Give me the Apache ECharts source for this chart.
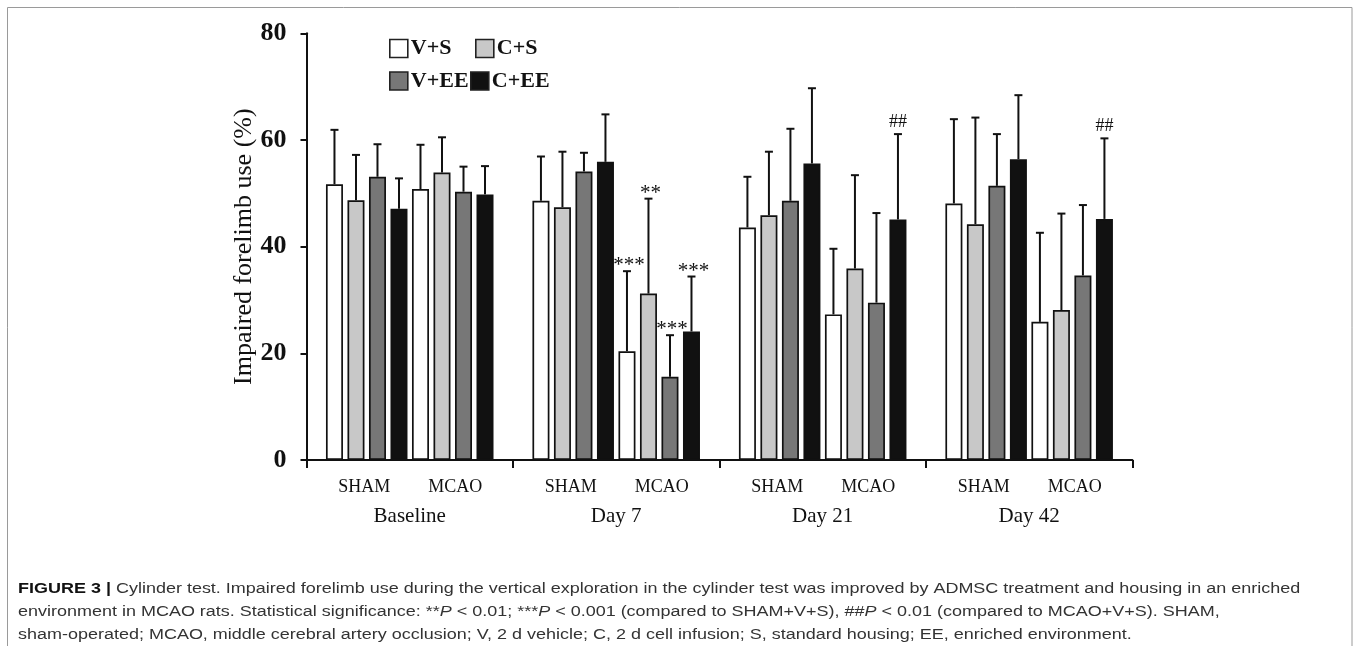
<!DOCTYPE html>
<html>
<head>
<meta charset="utf-8">
<script src="https://cdn.jsdelivr.net/npm/echarts@6/dist/echarts.min.js"></script>
<style>html,body{margin:0;padding:0;background:#fff;}#c{width:1360px;height:646px;}</style>
</head>
<body>
<div id="c"></div>
<script>
// ---- data ----
var days = ['Baseline', 'Day 7', 'Day 21', 'Day 42'];
var groups = ['SHAM', 'MCAO'];
var treatments = ['V+S', 'C+S', 'V+EE', 'C+EE'];
var yTicks = [0, 20, 40, 60, 80];

// means (per day)
var shamVS   = [51.7, 48.6, 43.6, 48.1];
var shamCS   = [48.7, 47.4, 45.9, 44.2];
var shamVEE  = [53.1, 54.1, 48.6, 51.4];
var shamCEE  = [47.1, 55.9, 55.6, 56.4];
var mcaoVS   = [50.8, 20.4, 27.3, 25.9];
var mcaoCS   = [53.9, 31.2, 35.9, 28.1];
var mcaoVEE  = [50.3, 15.6, 29.5, 34.6];
var mcaoCEE  = [49.8, 24.1, 45.1, 45.2];

// top of upper error bar (mean + SD)
var shamVSTop  = [61.9, 56.9, 53.1, 63.9];
var shamCSTop  = [57.2, 57.8, 57.8, 64.2];
var shamVEETop = [59.2, 57.6, 62.1, 61.1];
var shamCEETop = [52.8, 64.8, 69.7, 68.4];
var mcaoVSTop  = [59.1, 35.4, 39.6, 42.6];
var mcaoCSTop  = [60.5, 49.0, 53.4, 46.2];
var mcaoVEETop = [55.0, 23.4, 46.3, 47.8];
var mcaoCEETop = [55.1, 34.4, 61.1, 60.3];

// significance marks: [day index, bar index (0-7), text]
var marks = [
  [1, 4, '***'], [1, 5, '**'], [1, 6, '***'], [1, 7, '***'],
  [2, 7, '##'], [3, 7, '##']
];

var captionLines = [
  '{b|FIGURE 3 |} Cylinder test. Impaired forelimb use during the vertical exploration in the cylinder test was improved by ADMSC treatment and housing in an enriched',
  'environment in MCAO rats. Statistical significance: **{i|P} < 0.01; ***{i|P} < 0.001 (compared to SHAM+V+S), ##{i|P} < 0.01 (compared to MCAO+V+S). SHAM,',
  'sham-operated; MCAO, middle cerebral artery occlusion; V, 2 d vehicle; C, 2 d cell infusion; S, standard housing; EE, enriched environment.'
];

// ---- styling ----
var serif = "'Liberation Serif', 'Times New Roman', Times, serif";
var sans = "'Liberation Sans', Arial, Helvetica, sans-serif";
var colors = ['#ffffff', '#c8c8c8', '#777777', '#111111'];
var barW = 17, barGapFrac = 0.265;
var pitch = barW * (1 + barGapFrac);

var means = [shamVS, shamCS, shamVEE, shamCEE, mcaoVS, mcaoCS, mcaoVEE, mcaoCEE];
var tops = [shamVSTop, shamCSTop, shamVEETop, shamCEETop, mcaoVSTop, mcaoCSTop, mcaoVEETop, mcaoCEETop];

var series = [];
means.forEach(function (arr, i) {
  series.push({
    type: 'bar',
    name: treatments[i % 4],
    data: arr,
    barWidth: barW,
    barGap: (barGapFrac * 100) + '%',
    itemStyle: { color: colors[i % 4], borderColor: '#111', borderWidth: 1.7 },
    emphasis: { disabled: true },
    z: 2
  });
});

var errData = [];
tops.forEach(function (arr, i) {
  arr.forEach(function (t, d) { errData.push([d, means[i][d], t, i]); });
});

series.push({
  type: 'custom',
  data: errData,
  encode: { x: 0, y: 2 },
  z: 3,
  silent: true,
  renderItem: function (params, api) {
    var d = api.value(0), m = api.value(1), t = api.value(2), i = api.value(3);
    var base = api.coord([d, m]);
    var top = api.coord([d, t]);
    var x = base[0] + (i - 3.5) * pitch;
    var st = { stroke: '#111', lineWidth: 2 };
    return {
      type: 'group',
      children: [
        { type: 'line', shape: { x1: x, y1: base[1], x2: x, y2: top[1] }, style: st },
        { type: 'line', shape: { x1: x - 4, y1: top[1], x2: x + 4, y2: top[1] }, style: st }
      ]
    };
  }
});

var markData = marks.map(function (mk) {
  return [mk[0], tops[mk[1]][mk[0]], mk[1]];
});
series.push({
  type: 'custom',
  data: markData,
  encode: { x: 0, y: 1 },
  z: 4,
  silent: true,
  renderItem: function (params, api) {
    var d = api.value(0), t = api.value(1), i = api.value(2);
    var p = api.coord([d, t]);
    var txt = marks[params.dataIndex][2];
    var isHash = txt.charAt(0) === '#';
    return {
      type: 'text',
      style: {
        x: p[0] + (i - 3.5) * pitch + (isHash ? 0 : 2),
        y: p[1] + (isHash ? -3 : 5),
        text: txt,
        textAlign: 'center',
        textVerticalAlign: 'bottom',
        font: (isHash ? '18px ' : '21px ') + serif,
        fill: '#111'
      }
    };
  }
});

var legendPos = [[389, 37.5], [475, 37.5], [389, 70], [470, 70]];
var legends = treatments.map(function (name, k) {
  return {
    data: [{ name: name, icon: 'rect' }],
    left: legendPos[k][0],
    top: legendPos[k][1],
    padding: 0,
    itemWidth: 18,
    itemHeight: 18,
    selectedMode: false,
    itemStyle: { borderColor: '#222', borderWidth: 1.6 },
    textStyle: { fontFamily: serif, fontWeight: 'bold', fontSize: 22, lineHeight: 22, color: '#111', padding: [0, 0, 0, -2] }
  };
});

var option = {
  animation: false,
  backgroundColor: '#fff',
  legend: legends,
  grid: { left: 306.5, right: 227.6, top: 33.3, bottom: 186 },
  xAxis: {
    type: 'category',
    data: days,
    axisLine: { lineStyle: { color: '#111', width: 2 } },
    axisTick: { show: true, length: 8, lineStyle: { color: '#111', width: 2 } },
    axisLabel: {
      interval: 0,
      margin: 12,
      color: '#111',
      formatter: function (v) { return '{s|' + groups[0] + '}{m|' + groups[1] + '}\n{d|' + v + '}'; },
      rich: {
        s: { width: 91, align: 'center', fontFamily: serif, fontSize: 18, lineHeight: 30, color: '#111' },
        m: { width: 91, align: 'center', fontFamily: serif, fontSize: 18, lineHeight: 30, color: '#111' },
        d: { fontFamily: serif, fontSize: 21, lineHeight: 28, color: '#111' }
      }
    }
  },
  yAxis: {
    type: 'value',
    min: yTicks[0],
    max: yTicks[yTicks.length - 1],
    interval: yTicks[1] - yTicks[0],
    name: 'Impaired forelimb use (%)',
    nameLocation: 'middle',
    nameRotate: 90,
    nameGap: 49,
    nameMoveOverlap: false,
    nameTextStyle: { fontFamily: serif, fontSize: 26, color: '#111' },
    splitLine: { show: false },
    axisLine: { show: true, lineStyle: { color: '#111', width: 2 } },
    axisTick: { show: true, length: 6, lineStyle: { color: '#111', width: 2 } },
    axisLabel: { margin: 20, fontFamily: serif, fontWeight: 'bold', fontSize: 26, color: '#111' }
  },
  series: series,
  graphic: [
    { type: 'rect', shape: { x: 7.5, y: 7.5, width: 1344.5, height: 660 }, style: { fill: 'none', stroke: '#9a9a9a', lineWidth: 1 }, silent: true, z: -1 }
  ].concat(captionLines.map(function (line, k) {
    return {
      type: 'text',
      x: 18,
      y: 589 + k * 23,
      scaleX: 1.16,
      silent: true,
      style: {
        text: line,
        font: '15.5px ' + sans,
        fill: '#333',
        textVerticalAlign: 'middle',
        rich: {
          b: { fontFamily: sans, fontSize: 15.5, fontWeight: 'bold', fill: '#111' },
          i: { fontFamily: sans, fontSize: 15.5, fontStyle: 'italic', fill: '#333' }
        }
      }
    };
  }))
};

var chart = echarts.init(document.getElementById('c'), null, { renderer: 'canvas' });
chart.setOption(option);
</script>
</body>
</html>
